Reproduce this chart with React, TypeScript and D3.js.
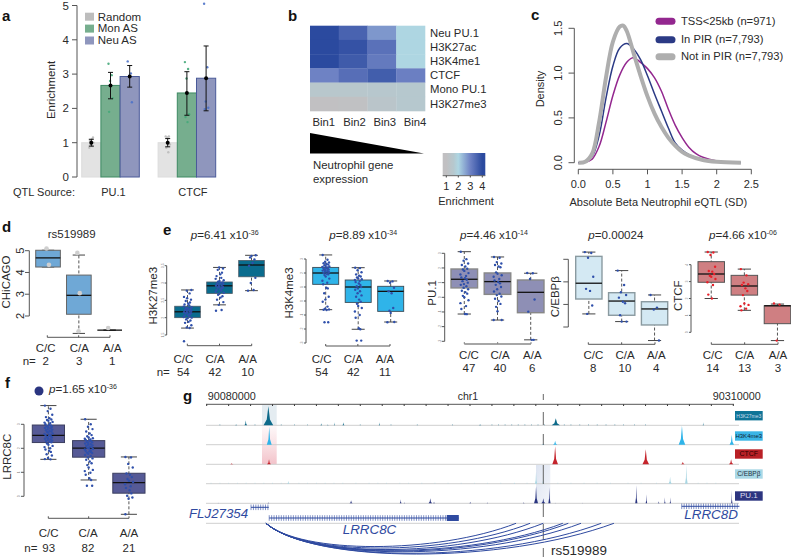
import React from 'react';
import * as d3 from 'd3';

const FONT = '"Liberation Sans", Arial, sans-serif';
const INK = '#2a2a2a';
const AXIS = '#555';
const GENOTYPES = ['C/C', 'C/A', 'A/A'];
const JITTER = [-0.5, 0.3, -0.1, 0.55, -0.35, 0.15, 0.42, -0.2, 0, 0.6, -0.55, 0.25, -0.42, 0.1, 0.35, -0.25, 0.5, -0.05];

// panel a
const sources = ['PU.1', 'CTCF'];
const asSeries = ['Random', 'Mon AS', 'Neu AS'];
const enrichMean = [[1.0, 2.67, 2.93], [1.0, 2.45, 2.88]];
const enrichLow = [[0.9, 2.28, 2.62], [0.88, 1.8, 1.93]];
const enrichHigh = [[1.1, 3.05, 3.25], [1.12, 3.07, 3.82]];
const enrichDots = [
  [[0.85, 0.9, 0.95, 1.0, 1.05, 1.1, 1.15], [3.3, 2.97, 2.8, 2.3, 1.9], [3.37, 3.02, 2.95, 2.18]],
  [[1.18, 1.18, 1.15, 0.95, 0.85, 0.72], [3.35, 3.15, 2.87, 1.83, 1.75, 1.6], [5.05, 3.2, 2.2, 2.02, 1.98]],
];

// panel b
const heatRows = ['Neu PU.1', 'H3K27ac', 'H3K4me1', 'CTCF', 'Mono PU.1', 'H3K27me3'];
const heatBins = ['Bin1', 'Bin2', 'Bin3', 'Bin4'];
const heatValues = [
  [4.0, 3.55, 2.75, 2.0],
  [4.0, 3.85, 3.3, 2.0],
  [4.0, 3.7, 3.15, 2.0],
  [3.0, 3.35, 3.65, 3.05],
  [1.5, 1.5, 1.55, 1.6],
  [1.0, 1.05, 1.4, 1.6],
];
const heatStops = [1, 1.6, 2, 3, 4];
const heatColors = ['#c1c0c2', '#b6c8ce', '#aed6e2', '#6e82c4', '#2b4a9f'];

// panel c
const densityNames = ['TSS<25kb (n=971)', 'In PIR (n=7,793)', 'Not in PIR (n=7,793)'];
const densityColors = ['#93278f', '#2b3a85', '#aeaeae'];
const densityWidths = [1.5, 1.5, 4];
const tssCurve = [[0, 0], [0.1, 0.005], [0.2, 0.04], [0.3, 0.18], [0.4, 0.45], [0.5, 0.75], [0.6, 0.98], [0.7, 1.12], [0.78, 1.17], [0.85, 1.15], [0.9, 1.12], [1, 1.05], [1.1, 0.95], [1.2, 0.8], [1.3, 0.6], [1.4, 0.42], [1.5, 0.28], [1.6, 0.17], [1.7, 0.1], [1.8, 0.06], [2, 0.02], [2.2, 0.005]];
const pirCurve = [[0, 0], [0.1, 0.01], [0.2, 0.07], [0.3, 0.3], [0.4, 0.72], [0.5, 1.08], [0.6, 1.28], [0.7, 1.33], [0.8, 1.27], [0.9, 1.15], [1, 0.97], [1.1, 0.77], [1.2, 0.58], [1.3, 0.39], [1.4, 0.22], [1.5, 0.14], [1.6, 0.09], [1.8, 0.03], [2, 0.01], [2.35, 0]];
const notPirCurve = [[0, 0], [0.1, 0.01], [0.2, 0.1], [0.3, 0.45], [0.4, 0.95], [0.5, 1.35], [0.6, 1.52], [0.65, 1.53], [0.7, 1.47], [0.8, 1.22], [0.9, 0.97], [1, 0.74], [1.1, 0.55], [1.2, 0.4], [1.3, 0.28], [1.4, 0.19], [1.5, 0.12], [1.6, 0.08], [1.8, 0.03], [2, 0.01], [2.35, 0]];

// panel d
const chicagoBox = [[4.25, 4.25, 4.67, 5.02, 5.02], [1.2, 2.08, 2.95, 3.88, 4.8], [1.35, 1.35, 1.35, 1.35, 1.35]];
const chicagoPts = [[5.1, 4.35], [4.9, 3.05, 1.3], [1.45]];
const chicagoN = [2, 3, 1];

// panels e, f : [low whisker, q1, median, q3, high whisker]
const h3k27me3Box = [[1.7, 2.0, 2.17, 2.33, 2.8], [2.37, 2.7, 2.92, 3.03, 3.45], [2.78, 3.18, 3.52, 3.65, 3.8]];
const h3k27me3Pts = [
  [1.32, 1.7, 1.72, 1.78, 1.85, 1.88, 1.92, 1.95, 1.98, 2.0, 2.02, 2.04, 2.06, 2.08, 2.1, 2.12, 2.13, 2.15, 2.16, 2.18, 2.2, 2.2, 2.22, 2.24, 2.25, 2.27, 2.28, 2.3, 2.32, 2.35, 2.38, 2.4, 2.44, 2.48, 2.52, 2.56, 2.6, 2.7, 2.78, 2.8],
  [2.2, 2.22, 2.37, 2.45, 2.52, 2.58, 2.62, 2.66, 2.7, 2.72, 2.75, 2.78, 2.8, 2.82, 2.85, 2.87, 2.88, 2.9, 2.92, 2.93, 2.95, 2.97, 2.98, 3.0, 3.02, 3.04, 3.06, 3.08, 3.12, 3.15, 3.2, 3.25, 3.3, 3.38, 3.42, 3.45],
  [2.78, 2.8, 3.0, 3.15, 3.5, 3.58, 3.68, 3.74, 3.78, 3.8],
];
const h3k27me3N = [54, 42, 10];

const h3k4me3Box = [[-0.62, 1.19, 2.0, 2.4, 3.29], [-2.02, -0.1, 1.0, 1.5, 2.38], [-1.5, -0.74, 0.69, 1.05, 1.43]];
const h3k4me3Pts = [
  [3.29, 2.95, 2.8, 2.75, 2.7, 2.65, 2.6, 2.55, 2.5, 2.47, 2.44, 2.4, 2.37, 2.34, 2.3, 2.27, 2.24, 2.2, 2.17, 2.13, 2.1, 2.05, 2.0, 1.95, 1.9, 1.85, 1.75, 1.6, 1.45, 1.3, 1.2, 0.95, 0.9, 0.55, 0.3, 0.1, -0.05, -0.4, -0.55, -0.6, -0.62, -0.65, -1.52, -1.52],
  [2.38, 2.35, 2.2, 2.05, 1.9, 1.8, 1.75, 1.68, 1.6, 1.55, 1.5, 1.42, 1.35, 1.25, 1.15, 1.05, 1.0, 0.9, 0.8, 0.7, 0.55, 0.4, 0.3, 0.1, -0.05, -0.2, -0.35, -0.5, -0.75, -1.0, -1.2, -1.95, -2.02, -2.83, -2.83],
  [1.43, 1.4, 1.3, 0.95, 0.7, 0.55, -0.5, -0.7, -0.85, -1.5, -1.52],
];
const h3k4me3N = [54, 42, 11];

const pu1Box = [[-1.14, 0.64, 1.23, 1.93, 3.11], [-1.55, 0.2, 1.07, 1.66, 2.75], [-2.9, -1.05, 0.34, 1.18, 1.64]];
const pu1Pts = [
  [3.11, 2.6, 2.5, 2.3, 2.2, 2.1, 1.95, 1.9, 1.8, 1.65, 1.55, 1.45, 1.35, 1.3, 1.2, 1.1, 1.0, 0.9, 0.85, 0.75, 0.65, 0.55, 0.45, 0.35, 0.25, 0.1, 0, -0.2, -0.4, -0.6, -0.8, -1.14, -1.15],
  [2.75, 2.7, 2.4, 2.3, 2.2, 2.1, 2.05, 1.7, 1.6, 1.5, 1.4, 1.25, 1.15, 1.05, 0.95, 0.85, 0.7, 0.55, 0.4, 0.25, 0.15, 0.05, -0.1, -0.25, -0.45, -0.65, -0.95, -1.55, -1.55],
  [1.66, 1.64, 1.25, -0.15, -0.98, -2.9, -2.9],
];
const pu1N = [47, 40, 6];

const cebpBox = [[0.58, 1.24, 1.94, 3.13, 3.32], [0.24, 0.52, 1.15, 1.52, 2.5], [-0.6, 0.09, 0.8, 1.12, 1.42]];
const cebpPts = [
  [3.32, 3.28, 3.07, 2.23, 1.69, 1.6, 0.95, 0.58],
  [2.5, 1.86, 1.54, 1.42, 1.3, 1.12, 1.05, 0.52, 0.24, 0.24],
  [1.42, 0.86, 0.77, -0.6],
];
const cebpN = [8, 10, 4];

const ctcfBox = [[2.0, 2.96, 3.45, 4.18, 4.75], [1.3, 2.2, 2.74, 3.37, 3.74], [-0.49, 0.51, 1.57, 1.57, 1.67]];
const ctcfPts = [
  [4.75, 4.72, 4.57, 3.88, 3.63, 3.59, 3.45, 3.35, 3.29, 3.15, 2.96, 2.8, 2.23, 2.0],
  [3.74, 3.37, 2.94, 2.84, 2.8, 2.6, 2.44, 2.2, 1.71, 1.62, 1.54, 1.4, 1.3],
  [1.71, 1.64, -0.49],
];
const ctcfN = [14, 13, 3];

const lrrc8cBox = [[1.54, 2.24, 2.54, 2.97, 3.78], [0.68, 1.63, 2.01, 2.32, 3.21], [-0.75, 0.13, 0.57, 0.96, 1.64]];
const lrrc8cPts = [
  [3.78, 3.65, 3.55, 3.4, 3.3, 3.25, 3.2, 3.18, 3.15, 3.1, 3.07, 3.05, 3.0, 2.98, 2.95, 2.92, 2.9, 2.88, 2.85, 2.83, 2.8, 2.78, 2.75, 2.72, 2.7, 2.68, 2.65, 2.62, 2.6, 2.57, 2.55, 2.52, 2.5, 2.47, 2.45, 2.42, 2.4, 2.37, 2.35, 2.32, 2.3, 2.27, 2.25, 2.2, 2.15, 2.1, 2.05, 2.0, 1.95, 1.9, 1.85, 1.75, 1.7, 1.6, 1.55, 1.54],
  [3.21, 3.0, 2.9, 2.8, 2.7, 2.62, 2.55, 2.5, 2.45, 2.42, 2.4, 2.37, 2.35, 2.32, 2.3, 2.27, 2.25, 2.22, 2.2, 2.17, 2.15, 2.12, 2.1, 2.07, 2.05, 2.02, 2.0, 1.97, 1.95, 1.92, 1.9, 1.87, 1.85, 1.82, 1.8, 1.77, 1.72, 1.68, 1.62, 1.58, 1.52, 1.45, 1.38, 1.3, 1.2, 1.1, 1.05, 0.98, 0.9, 0.75, 0.68, 0.44, 0.44],
  [1.64, 1.62, 1.35, 1.2, 0.95, 0.9, 0.8, 0.72, 0.65, 0.6, 0.5, 0.42, 0.35, 0.25, 0.12, 0.02, -0.05, -0.1, -0.75],
];
const lrrc8cN = [93, 82, 21];

// panel g : peaks are [kb from 90080000, height, half width in kb]
const trackNames = ['H3K27me3', 'H3K4me3', 'CTCF', 'C/EBPβ', 'PU.1'];
const trackColors = ['#0d6a8a', '#2fb4e9', '#c5242c', '#a9d6e3', '#2a3580'];
const trackPeaks = [
  [[28.1, 19, 2.2], [17.8, 5, 0.6], [13.4, 1, 0.5], [52.2, 2, 0.4], [55.2, 0.7, 0.4], [58.2, 3, 0.25], [62.3, 3, 0.5], [78.7, 3, 0.3], [124.6, 1, 0.6], [159.1, 7, 1.9], [226.3, 3, 0.25]],
  [[28.5, 18, 1.1], [153.4, 1.5, 0.5], [158.8, 4, 0.9], [216.6, 19, 1.5], [239.3, 10, 1]],
  [[28.4, 5, 0.9], [11.4, 1, 0.8], [158.8, 18, 1.3], [200.1, 15, 1.5], [217, 2.5, 0.8], [239, 5, 1]],
  [[150.1, 12, 0.5], [153.4, 10, 0.4], [140.2, 1.5, 0.3], [211.2, 7, 0.7], [218.6, 19, 0.6], [37.2, 3, 0.5]],
  [[65.8, 3, 0.7], [88.4, 4, 0.4], [90.1, 1, 0.3], [101.9, 5, 0.8], [103.6, 1.5, 0.4], [120.1, 1.5, 0.4], [127.9, 1, 0.3], [28.1, 0.7, 0.5], [5.2, 0.5, 0.3], [150.1, 17, 0.9], [153.4, 5, 0.9], [156.2, 16, 0.5], [144.5, 1, 0.4], [195.8, 18, 0.5], [200.4, 9, 0.35], [206, 2, 0.4], [208.8, 6, 0.3], [211.3, 6, 0.3], [239.3, 13, 0.3], [171.4, 0.5, 0.3], [158.8, 0.5, 0.3]],
];
const trackNoise = [
  [6, 22, 34, 40, 46, 70, 84, 96, 112, 130, 133, 136, 139, 142, 145, 148, 151, 154, 163, 166, 170, 174, 178, 182, 186, 190, 195, 200],
  [],
  [],
  [2, 6, 10, 14, 18, 22, 26, 30, 34, 42, 46, 50, 54, 58, 62, 68, 74, 78, 82, 88, 92, 98, 104, 110, 116, 122, 128, 134, 146, 160, 166, 172, 178, 184, 192, 198, 205, 224, 228, 232],
  [],
];
const genes = [
  { name: 'FLJ27354', start: 20.2, end: 28.3 },
  { name: 'LRRC8C', start: 28.5, end: 114.9 },
  { name: 'LRRC8D', start: 216.5, end: 242.8 },
];
const loopStart = 27;
const loopEnds = [141, 147.4, 153.4, 162.3, 164.8, 170.6, 179.8, 185.6];
const loopDepths = [31, 33, 35, 36, 37, 38, 40, 41];
const snpCuts = [[394, 400], [412, 425], [434, 445], [465, 484], [503, 517], [524, 540], [548, 557]];

const txt = { fontFamily: FONT, fill: INK };

function RotText({ x, y, size = 11, fill = INK, children }: any) {
  return (
    <text transform={`translate(${x},${y}) rotate(-90)`} textAnchor="middle" fontFamily={FONT} fontSize={size} fill={fill}>
      {children}
    </text>
  );
}

function PText({ x, y, value, exp }: { x: number; y: number; value: string; exp?: string }) {
  return (
    <text x={x} y={y} fontFamily={FONT} fontSize={11.6} fill={INK}>
      <tspan fontStyle="italic">p</tspan>
      <tspan>={value}</tspan>
      {exp && <tspan dy={-4} fontSize={7}>{exp}</tspan>}
    </text>
  );
}

function PanelA() {
  const y = d3.scaleLinear().domain([0, 5]).range([177, 5.5]);
  const x0 = d3.scaleBand().domain(sources).range([81.7, 215.7]).paddingInner(0.246);
  const x1 = d3.scaleBand().domain(asSeries).range([0, x0.bandwidth()]);
  const fills = ['#e3e3e3', '#76ae8e', '#8f96bd'];
  const strokes = ['#dcdcdc', '#3e8a63', '#4a5a99'];
  const dots = ['#bbbbbb', '#45a87a', '#4d72c8'];
  return (
    <g>
      <line x1={77} x2={77} y1={y(0)} y2={y(5)} stroke={AXIS} />
      {y.ticks(5).map(t => (
        <g key={t}>
          <line x1={72} x2={77} y1={y(t)} y2={y(t)} stroke={AXIS} />
          <text x={69} y={y(t) + 4} textAnchor="end" fontSize={11.5} {...txt}>{t}</text>
        </g>
      ))}
      <RotText x={54.5} y={90} size={11.5}>Enrichment</RotText>
      {sources.map((s, i) => asSeries.map((a, j) => {
        const bx = x0(s)! + x1(a)!;
        const cx = bx + x1.bandwidth() / 2;
        return (
          <g key={s + a}>
            <rect x={bx} y={y(enrichMean[i][j])} width={x1.bandwidth()} height={y(0) - y(enrichMean[i][j])} fill={fills[j]} stroke={strokes[j]} />
            {enrichDots[i][j].map((v, k) => (
              <circle key={k} cx={cx + JITTER[k] * 4} cy={y(v)} r={1.2} fill={dots[j]} opacity={0.9} />
            ))}
            <line x1={cx} x2={cx} y1={y(enrichLow[i][j])} y2={y(enrichHigh[i][j])} stroke="#111" />
            <line x1={cx - 2.5} x2={cx + 2.5} y1={y(enrichLow[i][j])} y2={y(enrichLow[i][j])} stroke="#111" />
            <line x1={cx - 2.5} x2={cx + 2.5} y1={y(enrichHigh[i][j])} y2={y(enrichHigh[i][j])} stroke="#111" />
            <circle cx={cx} cy={y(enrichMean[i][j])} r={2} fill="#000" />
          </g>
        );
      }))}
      {asSeries.map((a, j) => (
        <g key={a}>
          <rect x={85} y={12.7 + j * 11.9} width={9} height={8} fill={['#bdbdbd', '#76ae8e', '#8f96bd'][j]} />
          <text x={97.7} y={20.5 + j * 11.9} fontSize={11.5} {...txt}>{a}</text>
        </g>
      ))}
      <text x={13} y={195.5} fontSize={11} {...txt}>QTL Source:</text>
      {sources.map(s => (
        <text key={s} x={x0(s)! + x0.bandwidth() / 2 + (s === 'CTCF' ? 6 : 3)} y={195.5} textAnchor="middle" fontSize={11} {...txt}>{s}</text>
      ))}
    </g>
  );
}

function PanelB() {
  const x = d3.scaleBand().domain(heatBins).range([310, 425]);
  const y = d3.scaleBand().domain(heatRows).range([25.7, 111]);
  const color = d3.scaleLinear<string>().domain(heatStops).range(heatColors);
  const bar = d3.scaleLinear().domain([1, 4]).range([446.3, 482.3]);
  const tri = d3.line()([[310, 133], [310, 153.5], [424, 153.5]]) + 'Z';
  return (
    <g>
      <defs>
        <linearGradient id="heatGrad" x1="0" x2="1" y1="0" y2="0">
          {heatStops.map((s, i) => (
            <stop key={s} offset={(bar(s) - 442.7) / 42.6} stopColor={heatColors[i]} />
          ))}
        </linearGradient>
      </defs>
      {heatRows.map((r, i) => heatBins.map((b, j) => (
        <rect key={r + b} x={x(b)} y={y(r)} width={x.bandwidth() + 0.3} height={y.bandwidth() + 0.3} fill={color(heatValues[i][j])} />
      )))}
      {heatRows.map(r => (
        <text key={r} x={430} y={y(r)! + y.bandwidth() / 2 + 3.8} fontSize={11.3} {...txt}>{r}</text>
      ))}
      {heatBins.map((b, j) => (
        <text key={b} x={[323.7, 354.5, 384.7, 415][j]} y={126} textAnchor="middle" fontSize={11.3} {...txt}>{b}</text>
      ))}
      <path d={tri} fill="#000" />
      <text x={313} y={169} fontSize={11.4} {...txt}>Neutrophil gene</text>
      <text x={313} y={183} fontSize={11.4} {...txt}>expression</text>
      <rect x={442.7} y={153} width={42.6} height={22.7} fill="url(#heatGrad)" />
      <line x1={442.7} x2={485.3} y1={175.7} y2={175.7} stroke="#666" />
      {[1, 2, 3, 4].map(t => (
        <g key={t}>
          <line x1={bar(t)} x2={bar(t)} y1={175.7} y2={177.5} stroke="#444" />
          <text x={bar(t)} y={189.7} textAnchor="middle" fontSize={11} {...txt}>{t}</text>
        </g>
      ))}
      <text x={466} y={205} textAnchor="middle" fontSize={11} {...txt}>Enrichment</text>
    </g>
  );
}

function PanelC() {
  const x = d3.scaleLinear().domain([0, 2.5]).range([578.3, 751.3]);
  const y = d3.scaleLinear().domain([0, 1.5]).range([162.7, 28.3]);
  const line = d3.line<number[]>().x(d => x(d[0])).y(d => y(d[1])).curve(d3.curveCatmullRom);
  const curves = [tssCurve, pirCurve, notPirCurve];
  const xTicks = [0, 0.5, 1, 1.5, 2, 2.5];
  const xLabels = ['0.0', '0.5', '1', '1.5', '2', '2.5'];
  return (
    <g>
      <line x1={574.3} x2={574.3} y1={y(0)} y2={y(1.5)} stroke={AXIS} />
      {[0, 0.5, 1, 1.5].map(t => (
        <g key={t}>
          <line x1={568.5} x2={574.3} y1={y(t)} y2={y(t)} stroke={AXIS} />
          <RotText x={562} y={y(t)} size={11}>{t.toFixed(1)}</RotText>
        </g>
      ))}
      <RotText x={544} y={89} size={11}>Density</RotText>
      <line x1={x(0)} x2={x(2.5)} y1={169.3} y2={169.3} stroke={AXIS} />
      {xTicks.map((t, i) => (
        <g key={t}>
          <line x1={x(t)} x2={x(t)} y1={169.3} y2={174.3} stroke={AXIS} />
          <text x={x(t)} y={188} textAnchor="middle" fontSize={11} {...txt}>{xLabels[i]}</text>
        </g>
      ))}
      <text x={658.3} y={205.7} textAnchor="middle" fontSize={11} {...txt}>Absolute Beta Neutrophil eQTL (SD)</text>
      {curves.map((c, i) => (
        <path key={i} d={line(c)!} fill="none" stroke={densityColors[i]} strokeWidth={densityWidths[i]} />
      ))}
      {densityNames.map((n, i) => (
        <g key={n}>
          <line x1={659} x2={672} y1={[21.3, 39.7, 56.7][i]} y2={[21.3, 39.7, 56.7][i]} stroke={densityColors[i]} strokeWidth={7} strokeLinecap="round" />
          <text x={681} y={[25, 43.3, 60][i]} fontSize={11.2} {...txt}>{n}</text>
        </g>
      ))}
    </g>
  );
}

type BoxProps = {
  x0: number; x1: number; box: number[][]; pts: number[][]; n?: number[];
  color: string; edge: string; edgeW: number; dot: string; dotR?: number; jitter?: number;
  ticks: number[]; tickLabels?: boolean; yTop: number; yBottom: number;
  axisX: number; tickLen: number; label: string; labelX: number; labelY: number;
  baseY: number; baseX: number[]; baseColor?: string; baseW?: number;
  labelXs: number[]; labY: number; nY: number; nX?: number; labelSize?: number;
};

function BoxPanel(p: BoxProps) {
  const x = d3.scaleBand().domain(GENOTYPES).range([p.x0, p.x1]).paddingInner(0.2);
  const y = d3.scaleLinear().domain([p.ticks[0], p.ticks[p.ticks.length - 1]]).range([p.yTop, p.yBottom]);
  const w = x.bandwidth();
  const baseTicks = d3.scalePoint().domain(GENOTYPES).range(p.baseX);
  return (
    <g>
      <line x1={p.axisX} x2={p.axisX} y1={p.yTop} y2={p.yBottom} stroke={AXIS} />
      {p.ticks.map(t => (
        <g key={t}>
          <line x1={p.axisX - p.tickLen} x2={p.axisX} y1={y(t)} y2={y(t)} stroke={AXIS} />
          {p.tickLabels !== false && (
            <RotText x={p.axisX - p.tickLen - 1} y={y(t)} size={3.5} fill="#777">{t}</RotText>
          )}
        </g>
      ))}
      <RotText x={p.labelX} y={p.labelY} size={p.labelSize ?? 11.5}>{p.label}</RotText>
      {GENOTYPES.map((g, i) => {
        const [lo, q1, med, q3, hi] = p.box[i];
        const cx = x(g)! + w / 2;
        return (
          <g key={g}>
            <line x1={cx} x2={cx} y1={y(lo)} y2={y(hi)} stroke={AXIS} strokeDasharray="3 2" />
            <line x1={cx - w / 4} x2={cx + w / 4} y1={y(lo)} y2={y(lo)} stroke="#444" />
            <line x1={cx - w / 4} x2={cx + w / 4} y1={y(hi)} y2={y(hi)} stroke="#444" />
            <rect x={x(g)} y={y(q3)} width={w} height={y(q1) - y(q3)} fill={p.color} stroke={p.edge} strokeWidth={p.edgeW} />
            <line x1={x(g)} x2={x(g)! + w} y1={y(med)} y2={y(med)} stroke="#111" strokeWidth={1.3} />
            {p.pts[i].map((v, k) => (
              <circle key={k} cx={cx + JITTER[k % JITTER.length] * (p.jitter ?? 8)} cy={y(v)} r={p.dotR ?? 1.2} fill={p.dot} />
            ))}
          </g>
        );
      })}
      <line x1={p.baseX[0]} x2={p.baseX[1]} y1={p.baseY} y2={p.baseY} stroke={p.baseColor ?? AXIS} strokeWidth={p.baseW ?? 1} />
      {GENOTYPES.map((g, i) => (
        <g key={g}>
          <line x1={baseTicks(g)} x2={baseTicks(g)} y1={p.baseY - 2} y2={p.baseY} stroke={p.baseColor ?? AXIS} />
          <text x={p.labelXs[i]} y={p.labY} textAnchor="middle" fontSize={11.5} {...txt}>{g}</text>
          {p.n && <text x={p.labelXs[i]} y={p.nY} textAnchor="middle" fontSize={11.5} {...txt}>{p.n[i]}</text>}
        </g>
      ))}
      {p.nX !== undefined && <text x={p.nX} y={p.nY} fontSize={11.5} {...txt}>n=</text>}
    </g>
  );
}

function PanelG() {
  const xg = d3.scaleLinear().domain([0, 240]).range([206.7, 733.3]);
  const baselines = [425.3, 444.7, 464.3, 483.7, 503.3];
  const labelBoxY = [411, 431.3, 449.3, 469.3, 491.3];
  const labelFill = ['#0f7497', '#3ab5e6', '#b92026', '#a9d8e6', '#2d3580'];
  const labelText = ['#cde', '#123', '#2a0000', '#234', '#dde'];
  const labelSize = [5, 6, 7, 6.5, 8];
  const blue = '#2f4aa0';
  const lrrc = genes[1];
  const loopPath = (end: number, depth: number) => {
    const a = xg(loopStart), b = xg(end), dx = b - a;
    const p = d3.path();
    p.moveTo(a, 523.3);
    p.bezierCurveTo(a + dx * 0.14, 523.3 + depth, b - dx * 0.32, 523.3 + depth, b, 523.3);
    return p.toString();
  };
  return (
    <g>
      <defs>
        <linearGradient id="pinkGrad" x1="0" x2="0" y1="0" y2="1">
          <stop offset="0" stopColor="#f3c3ca" stopOpacity={0.1} />
          <stop offset="0.5" stopColor="#f3c3ca" stopOpacity={0.5} />
          <stop offset="1" stopColor="#f3c3ca" />
        </linearGradient>
        <linearGradient id="blueGrad" x1="0" x2="1" y1="0" y2="1">
          <stop offset="0" stopColor="#dde4f1" />
          <stop offset="1" stopColor="#e9edf6" stopOpacity={0.6} />
        </linearGradient>
      </defs>
      <rect x={262} y={405} width={14.7} height={20.3} fill="#e4ecf1" />
      <rect x={262} y={425.3} width={14.7} height={39} fill="url(#pinkGrad)" />
      <rect x={536} y={465} width={14.3} height={38.3} fill="url(#blueGrad)" />
      <line x1={206} x2={734} y1={404.3} y2={404.3} stroke={AXIS} />
      {d3.range(0, 250, 10).map(k => (
        <line key={k} x1={xg(k)} x2={xg(k)} y1={404.3} y2={406} stroke="#333" />
      ))}
      <text x={207.7} y={400} fontSize={10.8} {...txt}>90080000</text>
      <text x={457.7} y={400} fontSize={10.5} {...txt}>chr1</text>
      <text x={712.7} y={400} fontSize={10.8} {...txt}>90310000</text>
      {trackNames.map((t, i) => {
        const yg = d3.scaleLinear().domain([0, 20]).range([baselines[i], baselines[i] - 20]);
        const area = d3.area<number[]>().x(d => xg(d[0])).y0(baselines[i]).y1(d => yg(d[1]));
        return (
          <g key={t}>
            <line x1={206} x2={739} y1={baselines[i]} y2={baselines[i]} stroke="#cfcfcf" />
            {trackNoise[i].map(k => (
              <line key={k} x1={xg(k)} x2={xg(k)} y1={baselines[i]} y2={yg(0.9)} stroke={trackColors[i]} strokeWidth={0.7} opacity={0.7} />
            ))}
            {trackPeaks[i].map(([k, h, hw], j) => (
              <path key={j} fill={trackColors[i]} d={area([[k - hw, 0], [k - hw / 3, h * 0.3], [k, h], [k + hw / 3, h * 0.3], [k + hw, 0]])!} />
            ))}
            <rect x={735} y={labelBoxY[i]} width={27.7} height={9.4} fill={labelFill[i]} />
            <text x={748.8} y={labelBoxY[i] + 7} textAnchor="middle" fontFamily={FONT} fontSize={labelSize[i]} fill={labelText[i]}>{t}</text>
          </g>
        );
      })}
      <line x1={206} x2={739} y1={523.3} y2={523.3} stroke="#cfcfcf" />
      {snpCuts.map(([a, b]) => (
        <line key={a} x1={543.3} x2={543.3} y1={a} y2={b} stroke="#666" />
      ))}
      {genes.map((g, i) => {
        const gy = [507.3, 518, 506.3][i];
        return (
          <g key={g.name} stroke={blue}>
            <line x1={xg(g.start)} x2={xg(g.end)} y1={gy} y2={gy} />
            {d3.range(g.start, g.end, 1.1).map(k => (
              <line key={k} x1={xg(k)} x2={xg(k)} y1={gy - 2.8} y2={gy + 2.8} strokeWidth={0.6} />
            ))}
          </g>
        );
      })}
      <rect x={xg(109.4)} y={515} width={xg(lrrc.end) - xg(109.4)} height={6} fill={blue} />
      <text x={189} y={517.7} fontSize={13.3} fontStyle="italic" fontFamily={FONT} fill={blue}>FLJ27354</text>
      <text x={342.7} y={534.3} fontSize={13.4} fontStyle="italic" fontFamily={FONT} fill={blue}>LRRC8C</text>
      <text x={684.3} y={519.3} fontSize={13.4} fontStyle="italic" fontFamily={FONT} fill={blue}>LRRC8D</text>
      {loopEnds.map((e, i) => (
        <path key={e} d={loopPath(e, loopDepths[i])} fill="none" stroke={blue} strokeWidth={1} />
      ))}
      <text x={551} y={555} fontSize={13.4} {...txt}>rs519989</text>
    </g>
  );
}

export default function App() {
  const letters: [string, number, number][] = [['a', 2, 20.5], ['b', 288, 20.5], ['c', 531, 20], ['d', 2, 232], ['e', 163, 235], ['f', 5, 388], ['g', 183, 401]];
  const blueDot = '#2f50ab';
  const bottom = { labY: 363.3, nY: 376 };
  const bottom2 = { labY: 359.3, nY: 371.7 };
  return (
    <svg width={791} height={557} style={{ position: 'absolute', left: 0, top: 0, background: '#fff' }}>
      {letters.map(([l, x, y]) => (
        <text key={l} x={x} y={y} fontFamily={FONT} fontWeight="bold" fontSize={15} fill="#111">{l}</text>
      ))}
      <PanelA />
      <PanelB />
      <PanelC />

      <text x={71.7} y={237.7} textAnchor="middle" fontSize={11.5} {...txt}>rs519989</text>
      <BoxPanel x0={35.7} x1={122} box={chicagoBox} pts={chicagoPts} n={chicagoN} color="#6fa8d6" edge="#666" edgeW={1} dot="#cfcfcf" dotR={2.3} jitter={3}
        ticks={[5, 4, 3, 2]} tickLabels={false} yTop={250.7} yBottom={316} axisX={29.3} tickLen={4.3} label="CHiCAGO" labelX={10} labelY={282} labelSize={11.5}
        baseY={337.3} baseX={[47.3, 110]} labelXs={[45.7, 79.3, 112.3]} labY={351.7} nY={365} nX={22.7} />
      {[5, 4, 3, 2].map(t => (
        <RotText key={t} x={24} y={250.7 + (5 - t) * 21.77} size={11}>{t}</RotText>
      ))}

      <PText x={190.7} y={239.3} value="6.41 x10" exp="-36" />
      <BoxPanel x0={174.7} x1={264.3} box={h3k27me3Box} pts={h3k27me3Pts} n={h3k27me3N} color="#0a6c8e" edge="#4a5a66" edgeW={0.8} dot={blueDot} jitter={7}
        ticks={[3.5, 3.0, 2.5, 2.0, 1.5]} yTop={265.7} yBottom={335} axisX={166.7} tickLen={2} label="H3K27me3" labelX={156.5} labelY={295.7}
        baseY={345.7} baseX={[187.3, 251.7]} labelXs={[183.3, 215, 247.7]} {...bottom} nX={156.7} />

      <PText x={329.3} y={239.3} value="8.89 x10" exp="-34" />
      <BoxPanel x0={312.7} x1={403.7} box={h3k4me3Box} pts={h3k4me3Pts} n={h3k4me3N} color="#2fb4e9" edge="#3a4a55" edgeW={0.9} dot={blueDot} jitter={6}
        ticks={[3, 2, 1, 0, -1, -2, -3]} yTop={259} yBottom={343} axisX={306} tickLen={2} label="H3K4me3" labelX={293} labelY={293}
        baseY={346} baseX={[325.7, 390]} labelXs={[321.7, 353.3, 385]} {...bottom} />

      <PText x={460} y={239.3} value="4.46 x10" exp="-14" />
      <BoxPanel x0={451} x1={544} box={pu1Box} pts={pu1Pts} n={pu1N} color="#8e8fb5" edge="#888" edgeW={1.4} dot={blueDot} jitter={7}
        ticks={[3, 2, 1, 0, -1, -2, -3]} yTop={253.3} yBottom={341.3} axisX={444.7} tickLen={3} label="PU.1" labelX={435.5} labelY={293}
        baseY={344} baseX={[464.3, 531]} baseColor="#888" baseW={1.4} labelXs={[469, 500, 532.3]} {...bottom2} />

      <PText x={588.3} y={239.3} value="0.00024" />
      <BoxPanel x0={575.7} x1={667.7} box={cebpBox} pts={cebpPts} n={cebpN} color="#d4e9f3" edge="#8a9aa0" edgeW={1.4} dot={blueDot}
        ticks={[3, 2, 1, 0]} tickLabels={false} yTop={259.3} yBottom={327} axisX={568.3} tickLen={5} label="C/EBPβ" labelX={559} labelY={296.7}
        baseY={344.3} baseX={[588.3, 655]} labelXs={[593.3, 625, 656.3]} {...bottom2} />

      <PText x={709} y={239.3} value="4.66 x10" exp="-06" />
      <BoxPanel x0={698} x1={790.7} box={ctcfBox} pts={ctcfPts} n={ctcfN} color="#cf7f82" edge="#555" edgeW={1} dot="#e8202a" jitter={7}
        ticks={[4, 3, 2, 1, 0]} yTop={264.7} yBottom={332.3} axisX={691} tickLen={2} label="CTCF" labelX={682} labelY={295.7}
        baseY={344.3} baseX={[711.3, 778]} labelXs={[712.7, 744.7, 778]} {...bottom2} />

      <circle cx={39} cy={391} r={4.5} fill="#2a3580" />
      <PText x={49} y={393} value="1.65 x10" exp="-36" />
      <BoxPanel x0={32.3} x1={145} box={lrrc8cBox} pts={lrrc8cPts} n={lrrc8cN} color="#565a96" edge="#3c3f60" edgeW={1} dot={blueDot} jitter={7}
        ticks={[3, 2, 1, 0]} yTop={424.3} yBottom={496.3} axisX={24} tickLen={3} label="LRRC8C" labelX={10.5} labelY={456.7}
        baseY={518.3} baseX={[48.3, 129]} labelXs={[48.7, 88, 129]} labY={536.7} nY={552.3} nX={24.3} />

      <PanelG />
    </svg>
  );
}
